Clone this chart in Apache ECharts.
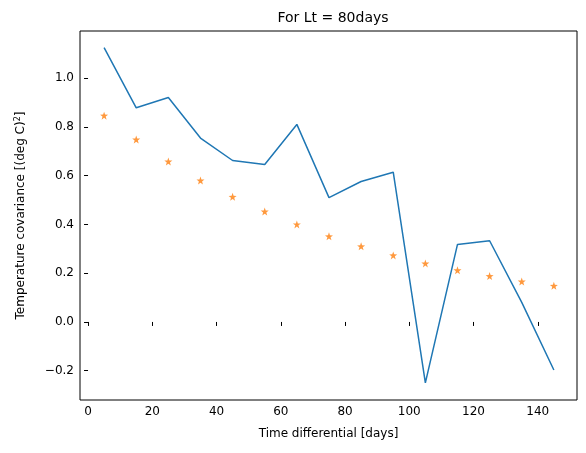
<!DOCTYPE html>
<html>
<head>
<meta charset="utf-8">
<script src="https://cdn.jsdelivr.net/npm/echarts@6/dist/echarts.min.js"></script>
<style>html,body{margin:0;background:#fff}#c{width:586px;height:453px}</style>
</head>
<body>
<div id="c"></div>
<script>
var lags = [5, 15, 25, 35, 45, 55, 65, 75, 85, 95, 105, 115, 125, 135, 145];
var empirical = [1.125, 0.878, 0.92, 0.754, 0.662, 0.646, 0.81, 0.51, 0.576, 0.614, -0.25, 0.318, 0.333, 0.08, -0.197];
var model = [0.846, 0.748, 0.658, 0.58, 0.513, 0.453, 0.4, 0.351, 0.31, 0.273, 0.24, 0.212, 0.188, 0.166, 0.148];
var xTicks = [0, 20, 40, 60, 80, 100, 120, 140];
var yTicks = [-0.2, 0, 0.2, 0.4, 0.6, 0.8, 1.0];

var chart = echarts.init(document.getElementById('c'));
var font = 'DejaVu Sans';

function pairs(vals) {
    var out = [];
    for (var i = 0; i < lags.length; i++) out.push([lags[i], vals[i]]);
    return out;
}

chart.setOption({
    animation: false,
    textStyle: {fontFamily: font},
    title: {
        text: 'For Lt = 80days', left: 328, top: 6, textAlign: 'center',
        textStyle: {fontFamily: font, fontSize: 14, fontWeight: 'normal', color: '#000'}
    },
    grid: {left: 80, right: 9, top: 31, bottom: 53, show: true, borderColor: '#000', borderWidth: 1},
    xAxis: {
        type: 'value', min: -2.5, max: 152.2,
        name: 'Time differential [days]', nameLocation: 'middle', nameGap: 28,
        nameTextStyle: {fontFamily: font, fontSize: 12, color: '#000'},
        splitLine: {show: false},
        axisLine: {show: false},
        axisTick: {show: true, customValues: xTicks, length: 4, inside: false, lineStyle: {color: '#000'}},
        axisLabel: {customValues: xTicks, color: '#000', fontSize: 12, fontFamily: font, margin: 6}
    },
    yAxis: {
        type: 'value', min: -0.32, max: 1.193,
        name: '{a|Temperature covariance [(deg C)}{s|2}{a|]}', nameLocation: 'middle', nameGap: 52, nameRotate: 90,
        nameTextStyle: {rich: {a: {fontFamily: font, fontSize: 12, color: '#000'}, s: {fontFamily: font, fontSize: 8, color: '#000', verticalAlign: 'top', padding: [0, 0, 6, 0]}}},
        splitLine: {show: false},
        axisLine: {show: false},
        axisTick: {show: true, customValues: yTicks, length: 4, lineStyle: {color: '#000'}},
        axisLabel: {customValues: yTicks, color: '#000', fontSize: 12, fontFamily: font, margin: 6,
            formatter: function (v) { return v.toFixed(1).replace('-', '\u2212'); }}
    },
    series: [
        {
            type: 'line', data: pairs(empirical), showSymbol: false,
            lineStyle: {color: '#1f77b4', width: 1.5}
        },
        {
            type: 'scatter', data: pairs(model),
            symbol: 'path://M0,-10 L2.35,-3.24 L9.51,-3.09 L3.8,1.24 L5.88,8.09 L0,4 L-5.88,8.09 L-3.8,1.24 L-9.51,-3.09 L-2.35,-3.24 Z',
            symbolSize: 8, itemStyle: {color: '#ff7f0e'}
        }
    ]
});
</script>
</body>
</html>
